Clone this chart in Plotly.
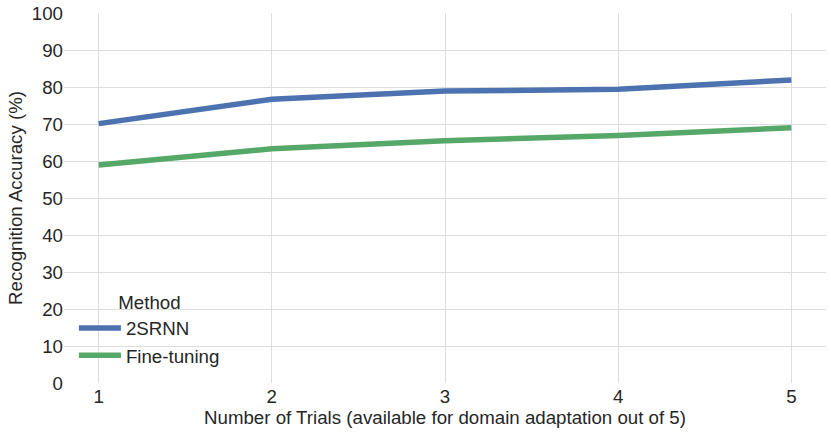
import plotly.graph_objects as go

trials = [1, 2, 3, 4, 5]
srnn = [70.1, 76.7, 78.9, 79.4, 81.9]
finetune = [58.9, 63.3, 65.5, 66.9, 69.0]
x_ticks = [1, 2, 3, 4, 5]
y_ticks = [0, 10, 20, 30, 40, 50, 60, 70, 80, 90, 100]

FS = 18.7
fig = go.Figure()
fig.add_trace(go.Scatter(x=trials, y=srnn, mode="lines", name="2SRNN",
                         line=dict(color="#4C72B0", width=5.5)))
fig.add_trace(go.Scatter(x=trials, y=finetune, mode="lines", name="Fine-tuning",
                         line=dict(color="#55A868", width=5.5)))

fig.update_layout(
    width=831, height=434,
    margin=dict(l=64, r=5, t=13, b=51),
    paper_bgcolor="white", plot_bgcolor="white",
    font=dict(family="Liberation Sans, Arial, sans-serif", size=FS, color="#262626"),
    xaxis=dict(range=[0.8, 5.2], tickvals=x_ticks, showgrid=True, gridcolor="#dddddd",
               gridwidth=1, zeroline=False, showline=False, ticks="", automargin=False,
               tickfont=dict(size=FS),
               title=dict(text="Number of Trials (available for domain adaptation out of 5)",
                          font=dict(size=FS), standoff=4)),
    yaxis=dict(range=[0, 100], tickvals=y_ticks, showgrid=True, gridcolor="#dddddd",
               gridwidth=1, zeroline=False, showline=False, ticks="", automargin=False,
               tickfont=dict(size=FS),
               title=dict(text="Recognition Accuracy (%)", font=dict(size=FS), standoff=4)),
    legend=dict(x=0.013, y=0.265, xanchor="left", yanchor="top",
                title=dict(text="Method", side="top center", font=dict(size=FS)),
                bgcolor="rgba(255,255,255,0)", font=dict(size=FS),
                itemwidth=42, tracegroupgap=0),
    showlegend=True,
)

fig.write_html("out.html", config={"displayModeBar": False},
               post_script="document.body.style.margin='0';")
